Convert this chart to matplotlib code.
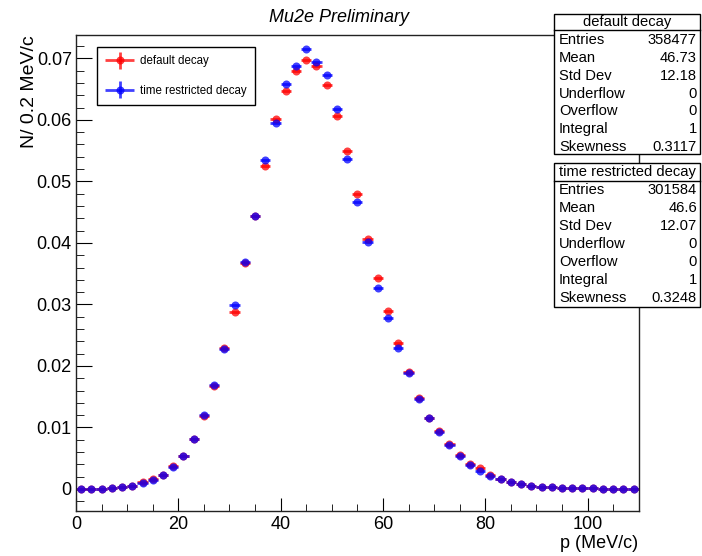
import numpy as np
import matplotlib
matplotlib.use("Agg")
import matplotlib.pyplot as plt
from matplotlib.patches import Rectangle
from matplotlib.ticker import MultipleLocator, FuncFormatter
from matplotlib.legend_handler import HandlerErrorbar
from matplotlib.container import ErrorbarContainer

plt.rcParams['font.family'] = ['Liberation Sans', 'DejaVu Sans']

# bin centres (2 MeV/c wide bins from 0 to 110)
p_centres = np.arange(1, 110, 2)
bin_half = 1.0

default_decay = [
    0.0000, 0.00002, 0.00006, 0.00016, 0.00034, 0.0005, 0.0012, 0.0016, 0.0023, 0.0037,
    0.0054, 0.0082, 0.0118, 0.0168, 0.0229, 0.0287, 0.0368, 0.0443, 0.0525, 0.0601,
    0.0647, 0.0679, 0.0697, 0.0687, 0.0657, 0.0606, 0.0550, 0.0480, 0.0407, 0.0343,
    0.0290, 0.0238, 0.0190, 0.0148, 0.0116, 0.0094, 0.0073, 0.0055, 0.0040, 0.0034,
    0.0022, 0.0016, 0.0011, 0.0008, 0.0005, 0.0004, 0.0003, 0.0002, 0.00015, 0.0001,
    0.0001, 0.00005, 0.00005, 0.00004, 0.00004]

time_restricted = [
    0.0000, 0.00002, 0.00006, 0.00015, 0.0003, 0.0005, 0.0010, 0.0015, 0.0022, 0.0035,
    0.0054, 0.0082, 0.0121, 0.0169, 0.0227, 0.0299, 0.0369, 0.0443, 0.0535, 0.0595,
    0.0659, 0.0688, 0.0716, 0.0694, 0.0673, 0.0617, 0.0537, 0.0467, 0.0402, 0.0327,
    0.0278, 0.0229, 0.0189, 0.0146, 0.0115, 0.0092, 0.0072, 0.0054, 0.0039, 0.0030,
    0.0021, 0.0016, 0.0011, 0.0008, 0.0005, 0.0004, 0.0003, 0.0002, 0.00015, 0.0001,
    0.0001, 0.00005, 0.00005, 0.00004, 0.00004]

stats_labels = ["Entries", "Mean", "Std Dev", "Underflow", "Overflow", "Integral", "Skewness"]
stats_default = ["358477", "46.73", "12.18", "0", "0", "1", "0.3117"]
stats_restricted = ["301584", "46.6", "12.07", "0", "0", "1", "0.3248"]

W, H = 702, 556
fig = plt.figure(figsize=(W / 100, H / 100), dpi=100)


def fx(x):
    return x / W


def fy(y):
    return 1 - y / H


ax = fig.add_axes([fx(76), fy(510.7), fx(638.7) - fx(76), fy(35) - fy(510.7)])

zeros = np.zeros(len(p_centres))
ax.errorbar(p_centres, default_decay, xerr=bin_half, yerr=zeros, fmt='o', color='#ff0000',
            ms=5.8, elinewidth=2, capsize=0, alpha=0.75, mew=0, label='default decay')
ax.errorbar(p_centres, time_restricted, xerr=bin_half, yerr=zeros, fmt='o', color='#0000ff',
            ms=5.8, elinewidth=2, capsize=0, alpha=0.75, mew=0, label='time restricted decay')

ax.set_xlim(0, 110)
ax.set_ylim(-0.00353, 0.0738)
ax.xaxis.set_major_locator(MultipleLocator(20))
ax.xaxis.set_minor_locator(MultipleLocator(5))
ax.yaxis.set_major_locator(MultipleLocator(0.01))
ax.yaxis.set_minor_locator(MultipleLocator(0.002))
ax.yaxis.set_major_formatter(FuncFormatter(lambda v, _: "0" if abs(v) < 1e-9 else f"{v:.2f}"))
ax.tick_params(which='both', direction='in', labelsize=13, top=False, right=False)
ax.tick_params(axis='x', which='major', length=9.5, pad=4)
ax.tick_params(axis='x', which='minor', length=5)
ax.tick_params(axis='y', which='major', length=11.5, pad=3)
ax.tick_params(axis='y', which='minor', length=5.8)
for s in ax.spines.values():
    s.set_linewidth(1)
    s.set_color('#222222')

leg = ax.legend(loc='upper left', bbox_to_anchor=(0.0368, 0.974), fontsize=8.3,
                frameon=True, fancybox=False, edgecolor='black', framealpha=1,
                borderaxespad=0, borderpad=0.7, labelspacing=1.5, handlelength=2.6,
                handletextpad=0.45,
                handler_map={ErrorbarContainer: HandlerErrorbar(xerr_size=1.25, yerr_size=0.75)})
leg.get_frame().set_linewidth(1)

# titles and axis labels
fig.text(fx(339), fy(18), "Mu2e Preliminary", ha='center', va='center', style='italic', fontsize=13)
fig.text(fx(30), fy(35), "N/ 0.2 MeV/c", ha='center', va='top', rotation=90, fontsize=14)
fig.text(fx(638), fy(543), "p (MeV/c)", ha='right', va='center', fontsize=13)


# stats boxes
def stats_box(top, bottom, line_y, title, row0, step, values):
    fig.patches.append(Rectangle((fx(554), fy(bottom)), fx(700) - fx(554), fy(top) - fy(bottom),
                                 transform=fig.transFigure, facecolor='white', edgecolor='black',
                                 linewidth=1, zorder=5))
    fig.lines.append(plt.Line2D([fx(554), fx(700)], [fy(line_y), fy(line_y)],
                                transform=fig.transFigure, color='black', linewidth=1, zorder=6))
    fig.text(fx(627), fy((top + line_y) / 2), title, ha='center', va='center', fontsize=10.6, zorder=7)
    for i, (lab, val) in enumerate(zip(stats_labels, values)):
        y = row0 + i * step
        fig.text(fx(559), fy(y), lab, ha='left', va='center', fontsize=10.6, zorder=7)
        fig.text(fx(697), fy(y), val, ha='right', va='center', fontsize=10.6, zorder=7)


stats_box(14, 154, 30, "default decay", 40.5, 17.7, stats_default)
stats_box(163, 307, 181, "time restricted decay", 190, 18, stats_restricted)

fig.savefig("out.png", dpi=100)
